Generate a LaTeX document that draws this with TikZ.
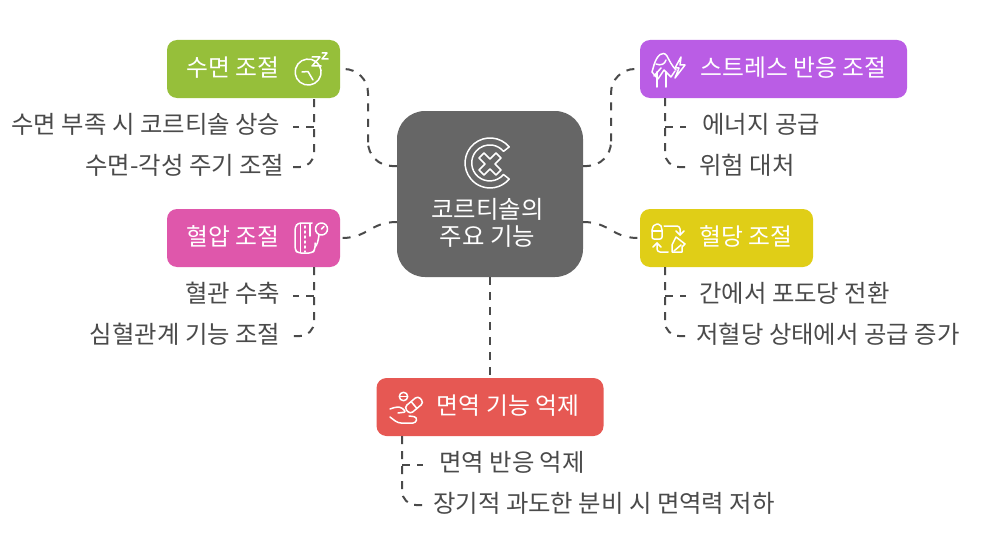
\documentclass[tikz,border=0pt]{standalone}
\usepackage{fontspec}
\setmainfont{Noto Sans CJK KR}[Scale=1]
\usetikzlibrary{calc}
\definecolor{cgreen}{HTML}{96BF3A}
\definecolor{cpurple}{HTML}{BA5DE5}
\definecolor{cpink}{HTML}{DF57AB}
\definecolor{cyellow}{HTML}{E0CE17}
\definecolor{cred}{HTML}{E65853}
\definecolor{cgray}{HTML}{666666}
\definecolor{ctext}{HTML}{4A4A4A}
\tikzset{
  x=1pt,y=-1pt,
  box/.style={rounded corners=10pt,inner sep=0pt,minimum height=58pt},
  boxlabel/.style={text=white,font=\fontsize{23.8}{28}\selectfont,inner sep=0pt},
  centerlabel/.style={text=white,font=\fontsize{24.4}{28}\selectfont,inner sep=0pt},
  sub/.style={text=ctext,font=\fontsize{24.4}{28}\selectfont,inner sep=0pt},
  conn/.style={draw=ctext,line width=2pt,dash pattern=on 8pt off 7pt},
  icon/.style={draw=white,line width=1.5pt,line cap=round,line join=round},
}
\begin{document}
\begin{tikzpicture}
\useasboundingbox (0,0) rectangle (985,543);
% boxes
\node[box,fill=cgray,rounded corners=28pt,minimum width=186pt,minimum height=166pt] (center) at (490,194) {};
\node[box,fill=cgreen,minimum width=173pt] (sleep) at (253.5,69) {};
\node[box,fill=cpink,minimum width=173pt] (bp) at (253.5,238) {};
\node[box,fill=cpurple,minimum width=267pt] (stress) at (773.5,69) {};
\node[box,fill=cyellow,minimum width=173pt] (sugar) at (726.5,238) {};
\node[box,fill=cred,minimum width=227pt] (immune) at (490,407) {};
% box labels
\node[centerlabel] (centerA) at (487.5,209.5) {코르티솔의};
\node[centerlabel] (centerB) at (487.5,236.5) {주요 기능};
\node[boxlabel] (sleepT) at (233,67.7) {수면 조절};
\node[boxlabel] (bpT) at (233,236.7) {혈압 조절};
\node[boxlabel] (stressT) at (793.5,67.7) {스트레스 반응 조절};
\node[boxlabel] (sugarT) at (746,236.7) {혈당 조절};
\node[boxlabel] (immuneT) at (508,405.7) {면역 기능 억제};
% sub labels
\node[sub,anchor=east] (s1) at (280.5,124.5) {수면 부족 시 코르티솔 상승};
\node[sub,anchor=east] (s2) at (284.5,165.5) {수면-각성 주기 조절};
\node[sub,anchor=east] (b1) at (280.5,293.5) {혈관 수축};
\node[sub,anchor=east] (b2) at (280.5,334.5) {심혈관계 기능 조절};
\node[sub,anchor=west] (t1) at (702,124.5) {에너지 공급};
\node[sub,anchor=west] (t2) at (699,165.5) {위험 대처};
\node[sub,anchor=west] (u1) at (699,293.5) {간에서 포도당 전환};
\node[sub,anchor=west] (u2) at (696,334.5) {저혈당 상태에서 공급 증가};
\node[sub,anchor=west] (i1) at (439,462.5) {면역 반응 억제};
\node[sub,anchor=west] (i2) at (433,503.5) {장기적 과도한 분비 시 면역력 저하};
% connector anchors
\coordinate (cL1) at (397,166);
\coordinate (cL2) at (397,222);
\coordinate (cR1) at (583,166);
\coordinate (cR2) at (583,222);
\coordinate (gA) at (343,69);
\coordinate (gM) at (368,120);
\coordinate (pA) at (638,69);
\coordinate (pM) at (611,120);
\coordinate (pkA) at (342,238);
\coordinate (yA) at (638,238);
% main connectors
\draw[conn,dash pattern=on 8pt off 7.45pt,rounded corners=24pt] (cL1) -| (gM) |- (gA);
\draw[conn,dash pattern=on 8pt off 7.45pt,rounded corners=24pt] (cR1) -| (pM) |- (pA);
\draw[conn,dash pattern=on 8pt off 8.5pt] (cL2) .. controls (370,222) and (368,238) .. (pkA);
\draw[conn,dash pattern=on 8pt off 8.5pt] (cR2) .. controls (610,222) and (612,238) .. (yA);
\draw[conn] (center.south) -- (immune.north);
% branches
\coordinate (sA) at (314,99); \coordinate (sB) at (314,127); \coordinate (sE1) at (293,127); \coordinate (sE2) at (293,167);
\draw[conn,rounded corners=14pt] (sA) |- (sE2);
\draw[conn] (sB) -- (sE1);
\coordinate (bA) at (314,267); \coordinate (bB) at (314,296); \coordinate (bE1) at (293,296); \coordinate (bE2) at (293,336);
\draw[conn,rounded corners=14pt] (bA) |- (bE2);
\draw[conn] (bB) -- (bE1);
\coordinate (tA) at (665,98); \coordinate (tB) at (665,127); \coordinate (tE1) at (686,127); \coordinate (tE2) at (686,167);
\draw[conn,rounded corners=14pt] (tA) |- (tE2);
\draw[conn] (tB) -- (tE1);
\coordinate (uA) at (665,267); \coordinate (uB) at (665,296); \coordinate (uE1) at (686,296); \coordinate (uE2) at (686,336);
\draw[conn,rounded corners=14pt] (uA) |- (uE2);
\draw[conn] (uB) -- (uE1);
\coordinate (iA) at (402,436); \coordinate (iB) at (402,465); \coordinate (iE1) at (423,465); \coordinate (iE2) at (423,505);
\draw[conn,rounded corners=14pt] (iA) |- (iE2);
\draw[conn] (iB) -- (iE1);
% center icon
\draw[icon] (509.2,146.9) arc[start angle=40,end angle=320,radius=25pt] -- (503.5,174.5) arc[start angle=320,end angle=40,radius=18pt] -- cycle;
\draw[icon] (484,153) -- (490,159) -- (496,153) -- (501,158) -- (495,164) -- (501,170) -- (496,175) -- (490,169) -- (484,175) -- (479,170) -- (485,164) -- (479,158) -- cycle;
% sleep icon
\draw[icon] (311.5,59.5) arc[start angle=75,end angle=-320,radius=13pt];
\draw[icon] (302,72) -- (308,71.5) -- (313,80);
\draw[icon] (312,57) -- (320,57) -- (312,66) -- (321,66);
\draw[icon] (322,53) -- (327,53) -- (322,59) -- (328,59);
% bp icon
\draw[icon,rounded corners=3pt] (312,223) -- (298,223) -- (295,227) -- (295,250) -- (298,253) -- (312,253) -- (315,250) -- (315,243);
\draw[icon] (300.5,224) -- (300.5,252) (310,224) -- (310,236);
\draw[icon,dash pattern=on 2pt off 3pt] (305,226) -- (305,252);
\draw[icon] (321.5,229) circle[radius=6pt];
\draw[icon] (321.5,229) -- (324,226.5);
\draw[icon] (319,235) .. controls (318,242) and (317,245) .. (315,247);
% stress icon
\draw[icon] (657,87) -- (657,72) (666,87) -- (666,72);
\draw[icon] (654,65) .. controls (657,55) and (663,50) .. (667,56) .. controls (669,60) and (672,66) .. (676,70);
\draw[icon] (654,65) -- (652,72) -- (658,79) -- (664,70) -- (671,77) -- (675,71);
\draw[icon] (656,64) .. controls (661,66) and (665,64) .. (666,60);
\draw[icon] (661,68) -- (654,76);
\draw[icon] (681,57) -- (675,68) -- (679,68) -- (675,78) -- (685,65) -- (680,65) -- cycle;
% sugar icon
\draw[icon,rounded corners=2pt] (652,228) -- (655,224) -- (660,224) -- (662,228) -- (662,239) -- (652,239) -- cycle;
\draw[icon] (652,231) -- (662,231);
\draw[icon,rounded corners=3pt] (664,226) -- (680,226) -- (680,235);
\draw[icon] (676,231) -- (680,235) -- (684,231);
\draw[icon,rounded corners=3pt] (668,252) -- (657,252) -- (657,243);
\draw[icon] (653,247) -- (657,243) -- (661,247);
\draw[icon] (676,237) -- (685,244) -- (682,247) -- (682,252) -- (672,252) -- (672,245) -- cycle;
\draw[icon] (674,251) -- (681,245);
% immune icon
\begin{scope}[shift={(414,405)},rotate=40]
\draw[icon,rounded corners=3.5pt] (-9,-4.5) rectangle (9,4.5);
\draw[icon] (0,-4.5) -- (0,4.5);
\end{scope}
\draw[icon] (403.5,396.5) circle[radius=4.2pt];
\draw[icon] (399.5,396.5) -- (407.5,396.5);
\draw[icon,rounded corners=2pt] (390,409) -- (396,407) -- (401,407) -- (406,412) -- (398,413);
\draw[icon,rounded corners=3pt] (390,417) -- (398,423) -- (416,423) -- (417,417) -- (409,416);
\end{tikzpicture}
\end{document}
